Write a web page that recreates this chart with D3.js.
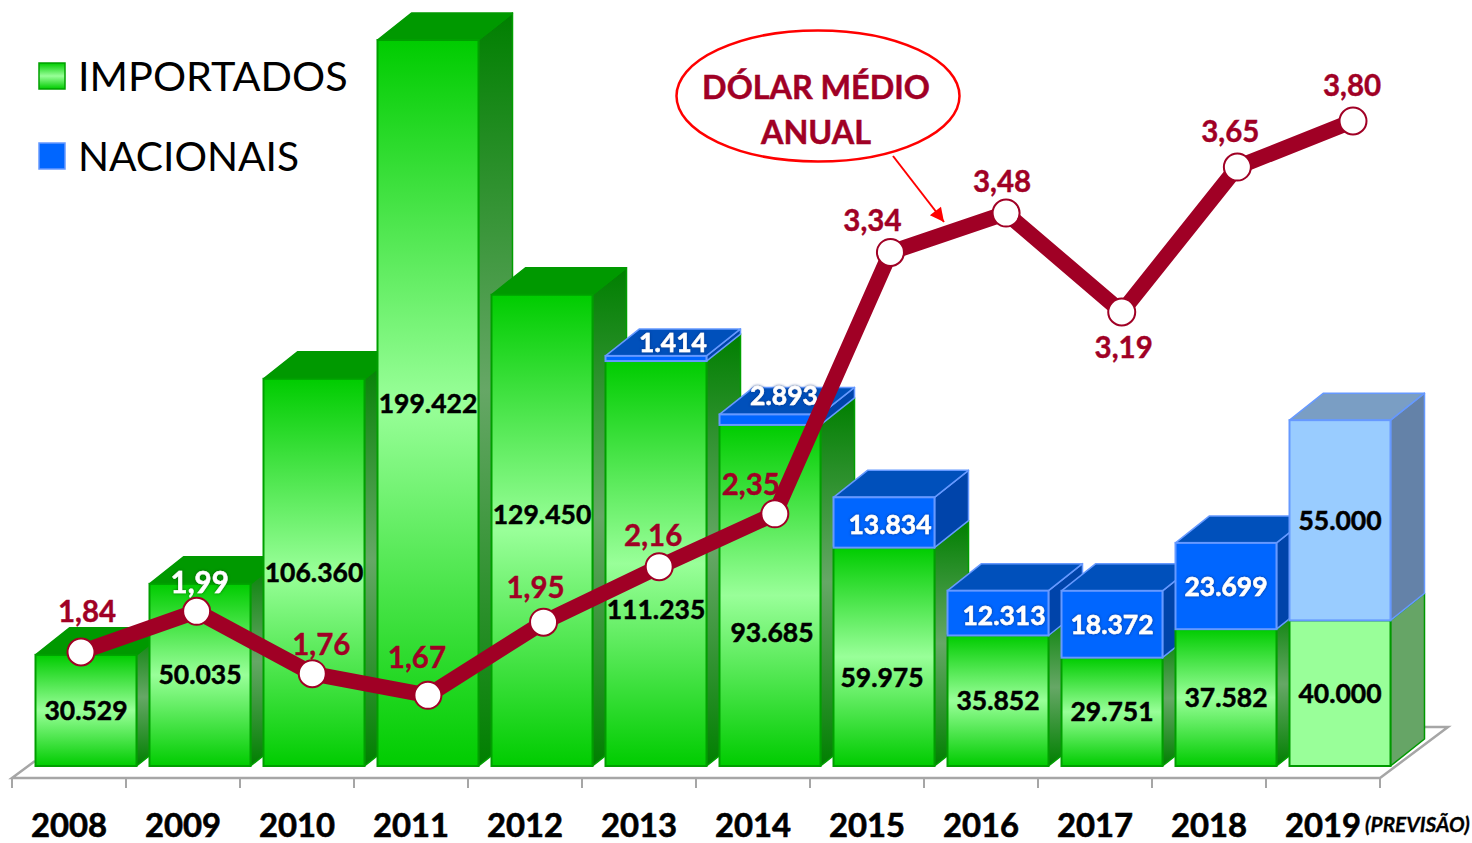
<!DOCTYPE html>
<html><head><meta charset="utf-8">
<script src="https://cdn.jsdelivr.net/npm/d3@7"></script>
<style>html,body{margin:0;background:#fff}svg{display:block}text{font-family:Lato,Carlito,sans-serif}</style>
</head><body><svg id="c" width="1472" height="843"></svg>
<script>
const years = ["2008","2009","2010","2011","2012","2013","2014","2015","2016","2017","2018","2019"];
const importados = [30529,50035,106360,199422,129450,111235,93685,59975,35852,29751,37582,40000];
const nacionais = [0,0,0,0,0,1414,2893,13834,12313,18372,23699,55000];
const dolarLabels = ["1,84","1,99","1,76","1,67","1,95","2,16","2,35","3,34","3,48","3,19","3,65","3,80"];
// dollar line heights (the drawn line departs slightly from its labels)
const dolarDrawn = [1.84,1.99,1.76,1.68,1.95,2.155,2.35,3.315,3.46,3.095,3.63,3.80];
const legendNames = ["IMPORTADOS","NACIONAIS"];

// label placement nudges, by year index: [dx, dy]
const impNudge = {4:[0,-16],5:[0,46],6:[2,37],7:[-2,21]};
const natNudge = {6:[-3,-5],7:[6,2],8:[6,2]};
const dolNudge = [[6,-41],[3,-29],[9,-29],[-11,-38],[-8,-35],[-6,-31],[-24,-29],[-18,-32],[-4,-32],[2,35],[-7,-36],[-1,-36]];

const W=101, DX=34, DY=27, BARLEFT=23.5;
const svg=d3.select("#c");
const x=d3.scaleBand().domain(years).range([12,1380]);
const y=d3.scaleLinear().domain([0,199422]).range([766,40]);
const xl=d3.scalePoint().domain(years).range([81,1353]);
const yl=d3.scaleLinear().domain([1.84,3.8]).range([652,121]);
const BASE=y(0);
const heavy=(sel,c,w)=>sel.attr("stroke",c).attr("stroke-width",w);

// gradients
const defs=svg.append("defs");
function grad(id,stops){const g=defs.append("linearGradient").attr("id",id).attr("x1",0).attr("y1",0).attr("x2",0).attr("y2",1);
 stops.forEach(s=>g.append("stop").attr("offset",s[0]).attr("stop-color",s[1]));}
grad("gf",[[0,"#00cc00"],[.5,"#99ff99"],[1,"#00cc00"]]);
grad("gs",[[0,"#007f00"],[.5,"#66a766"],[1,"#007f00"]]);
grad("gl",[[0,"#00cc00"],[.5,"#99ff99"],[1,"#00cc00"]]);
const blur=defs.append("filter").attr("id","halo").attr("x","-20%").attr("y","-30%").attr("width","140%").attr("height","160%");
blur.append("feDropShadow").attr("dx",0).attr("dy",0).attr("stdDeviation",1.6).attr("flood-color","#003080").attr("flood-opacity",.9);
const h2=defs.append("filter").attr("id","halo2").attr("x","-20%").attr("y","-30%").attr("width","140%").attr("height","160%");
h2.append("feDropShadow").attr("dx",0).attr("dy",0).attr("stdDeviation",1.4).attr("flood-color","#006000").attr("flood-opacity",.9);
defs.append("marker").attr("id","arr").attr("viewBox","0 0 10 10").attr("refX",10).attr("refY",5).attr("markerUnits","userSpaceOnUse").attr("markerWidth",16).attr("markerHeight",14).attr("orient","auto")
 .append("path").attr("d","M0,0L10,5L0,10Z").attr("fill","#ff0000");

// floor
const gray="#a6a6a6";
svg.append("path").attr("d",`M${x.range()[0]+23},${BASE-5}L${x.range()[0]},${BASE+12}H${x.range()[1]}L${x.range()[1]+68},${BASE-39}H${x.range()[1]+44}`)
 .attr("fill","none").attr("stroke",gray).attr("stroke-width",2.5);
const tickX=years.map(d=>x(d)).concat([x.range()[1]]);
svg.selectAll("line.t").data(tickX).join("line").attr("x1",d=>d).attr("x2",d=>d).attr("y1",BASE+12).attr("y2",BASE+22).attr("stroke",gray).attr("stroke-width",2);

function box(g,x0,yTop,yBot,c){
 const x1=x0+W;
 g.append("path").attr("d",`M${x1},${yTop}L${x1+DX},${yTop-DY}V${yBot-DY}L${x1},${yBot}Z`).attr("fill",c.side).attr("stroke",c.edge).attr("stroke-width",1.5).attr("stroke-linejoin","round");
 if(c.top) g.append("path").attr("d",`M${x0},${yTop}L${x0+DX},${yTop-DY}H${x1+DX}L${x1},${yTop}Z`).attr("fill",c.top).attr("stroke",c.topEdge||c.edge).attr("stroke-width",1.5).attr("stroke-linejoin","round");
 g.append("rect").attr("x",x0).attr("y",yTop).attr("width",W).attr("height",yBot-yTop).attr("fill",c.front).attr("stroke",c.edge).attr("stroke-width",2);
}
const green={front:"url(#gf)",side:"url(#gs)",top:"#009900",edge:"#009f00",topEdge:"#009900"};
const blue={front:"#0066ff",side:"#0044aa",top:"#0050bb",edge:"#6699ff"};
const green19={front:"#99ff99",side:"#66a566",top:null,edge:"#009900"};
const blue19={front:"#99ccff",side:"#6482a8",top:"#7a9ec4",edge:"#6699ff"};

const bars=svg.append("g");
years.forEach((yr,i)=>{
 const g=bars.append("g"), x0=x(yr)+BARLEFT, forecast=i===years.length-1;
 const yi=y(importados[i]), yt=y(importados[i]+nacionais[i]);
 box(g,x0,yi,BASE,forecast?green19:green);
 if(nacionais[i]>0) box(g,x0,yt,yi,forecast?blue19:blue);
});

// value labels
const lab=svg.append("g").attr("font-weight",700).attr("font-size",26.5).attr("text-anchor","middle");
years.forEach((yr,i)=>{
 const cx=x(yr)+BARLEFT+W/2, yi=y(importados[i]), n=impNudge[i]||[0,0];
 heavy(lab.append("text").attr("x",cx+n[0]).attr("y",(yi+BASE)/2+n[1]).attr("dy","0.36em").attr("fill","#000"),"#000",.5)
  .text(d3.format(",")(importados[i]).replace(/,/g,"."));
 if(nacionais[i]>0){
  const yt=y(importados[i]+nacionais[i]), m=natNudge[i]||[0,0], thin=nacionais[i]<5000, forecast=i===years.length-1, col=forecast?"#000":"#fff";
  heavy(lab.append("text").attr("x",cx+(thin?DX/2:0)+m[0]).attr("y",(thin?yt-DY/2:(yt+yi)/2)+m[1]).attr("dy","0.36em")
   .attr("fill",col).attr("filter",forecast?null:"url(#halo)"),col,.5)
   .text(d3.format(",")(nacionais[i]).replace(/,/g,"."));
 }
});

// dollar line
const red="#a00025";
const pts=years.map((yr,i)=>[xl(yr),yl(dolarDrawn[i])]);
svg.append("path").attr("d",d3.line()(pts)).attr("fill","none").attr("stroke",red).attr("stroke-width",15.5).attr("stroke-linejoin","round");
svg.selectAll("circle.p").data(pts).join("circle").attr("cx",d=>d[0]).attr("cy",d=>d[1]).attr("r",13.5).attr("fill","#fff").attr("stroke",red).attr("stroke-width",2);
const dl=svg.append("g").attr("font-weight",700).attr("font-size",29.5).attr("text-anchor","middle");
pts.forEach((p,i)=>{
 const t=dl.append("text").attr("x",p[0]+dolNudge[i][0]).attr("y",p[1]+dolNudge[i][1]).attr("dy","0.36em").text(dolarLabels[i]);
 if(i===1) heavy(t.attr("fill","#fff").attr("filter","url(#halo2)"),"#fff",.4); else heavy(t.attr("fill",red),red,.4);
});

// x axis labels
const ax=svg.append("g").attr("transform",`translate(0,${BASE+59})`).call(d3.axisBottom(x).tickSize(0).tickPadding(0));
ax.select(".domain").remove();
ax.selectAll("text").attr("font-size",32.8).attr("font-weight",700).attr("fill","#000").attr("stroke","#000").attr("stroke-width",.6).attr("dy",0).attr("y",12).style("font-family","Lato");
heavy(svg.append("text").attr("x",1365).attr("y",832).attr("font-size",20.8).attr("font-weight",700).attr("font-style","italic").attr("fill","#000"),"#000",.3).text("(PREVISÃO)");

// legend
const leg=svg.append("g");
legendNames.forEach((nm,i)=>{
 const yy=i?143:63;
 leg.append("rect").attr("x",39).attr("y",yy).attr("width",26).attr("height",26).attr("fill",i?"#0066ff":"url(#gl)").attr("stroke",i?"#6699ff":"#00a000").attr("stroke-width",1.5);
 leg.append("text").attr("x",78).attr("y",yy+13).attr("dy","0.36em").attr("font-size",i?40.7:41.4).attr("fill","#000").text(nm);
});

// callout
svg.append("ellipse").attr("cx",818).attr("cy",96).attr("rx",141.5).attr("ry",65.5).attr("fill","#fff").attr("stroke","#ff0000").attr("stroke-width",2.5);
const co=svg.append("g").attr("font-size",32.3).attr("font-weight",700).attr("fill",red).attr("stroke",red).attr("stroke-width",.5).attr("text-anchor","middle");
co.append("text").attr("x",816).attr("y",99).text("DÓLAR MÉDIO");
co.append("text").attr("x",816).attr("y",144).text("ANUAL");
svg.append("line").attr("x1",893).attr("y1",156).attr("x2",944).attr("y2",222).attr("stroke","#ff0000").attr("stroke-width",2).attr("marker-end","url(#arr)");
</script></body></html>
